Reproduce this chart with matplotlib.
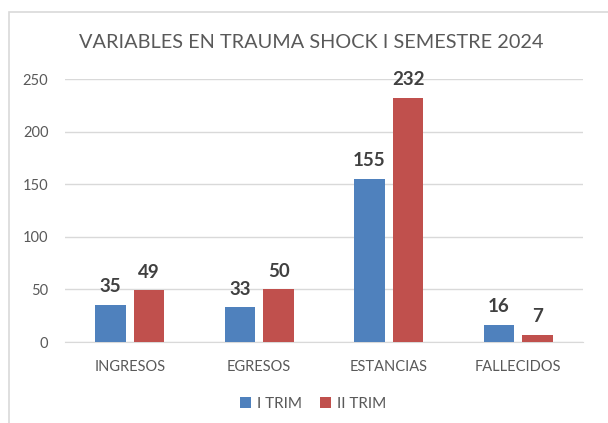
import matplotlib.pyplot as plt
import numpy as np
from matplotlib.patches import Rectangle

plt.rcParams['font.family'] = ['Lato', 'DejaVu Sans']

categorias = ['INGRESOS', 'EGRESOS', 'ESTANCIAS', 'FALLECIDOS']
trim1 = [35, 33, 155, 16]
trim2 = [49, 50, 232, 7]
series = ['I TRIM', 'II TRIM']
colores = ['#4F81BD', '#C0504D']

fig = plt.figure(figsize=(6.08, 4.23), dpi=100)
ax = fig.add_axes([65 / 608, 1 - 342 / 423, 518 / 608, 263 / 423])

# marco del grafico
fig.patches.append(Rectangle((9 / 608, -0.1), 1.2, 1 - 12 / 423 + 0.1,
                             transform=fig.transFigure, fill=False,
                             edgecolor='#D9D9D9', linewidth=1.2))

x = np.arange(len(categorias))
w = 0.235
off = 0.15
b1 = ax.bar(x - off, trim1, w, color=colores[0], label=series[0], zorder=3)
b2 = ax.bar(x + off, trim2, w, color=colores[1], label=series[1], zorder=3)

for barras in (b1, b2):
    ax.bar_label(barras, padding=7, fontsize=13.5, fontweight='bold',
                 color='#404040')

ax.set_xlim(-0.5, len(categorias) - 0.5)
ax.set_ylim(0, 250)
ax.set_yticks(range(0, 251, 50))
ax.set_xticks(x)
ax.set_xticklabels(categorias)
ax.yaxis.grid(True, color='#D9D9D9', linewidth=1)
ax.set_axisbelow(True)
for s in ['top', 'right', 'left']:
    ax.spines[s].set_visible(False)
ax.spines['bottom'].set_color('#D9D9D9')
ax.tick_params(axis='both', length=0, labelsize=10.5, colors='#595959')
ax.tick_params(axis='x', pad=13)
ax.tick_params(axis='y', pad=12)

fig.text(311 / 608, 1 - 42 / 423, 'VARIABLES EN TRAUMA SHOCK I SEMESTRE 2024',
         ha='center', va='center', fontsize=14.3, color='#595959')

fig.legend(loc='center', bbox_to_anchor=(313 / 608, 1 - 404 / 423), ncol=2,
           frameon=False, fontsize=11, labelcolor='#595959', handlelength=0.7,
           handleheight=0.7, handletextpad=0.4, columnspacing=1.2)

fig.savefig('out.png', dpi=100)
